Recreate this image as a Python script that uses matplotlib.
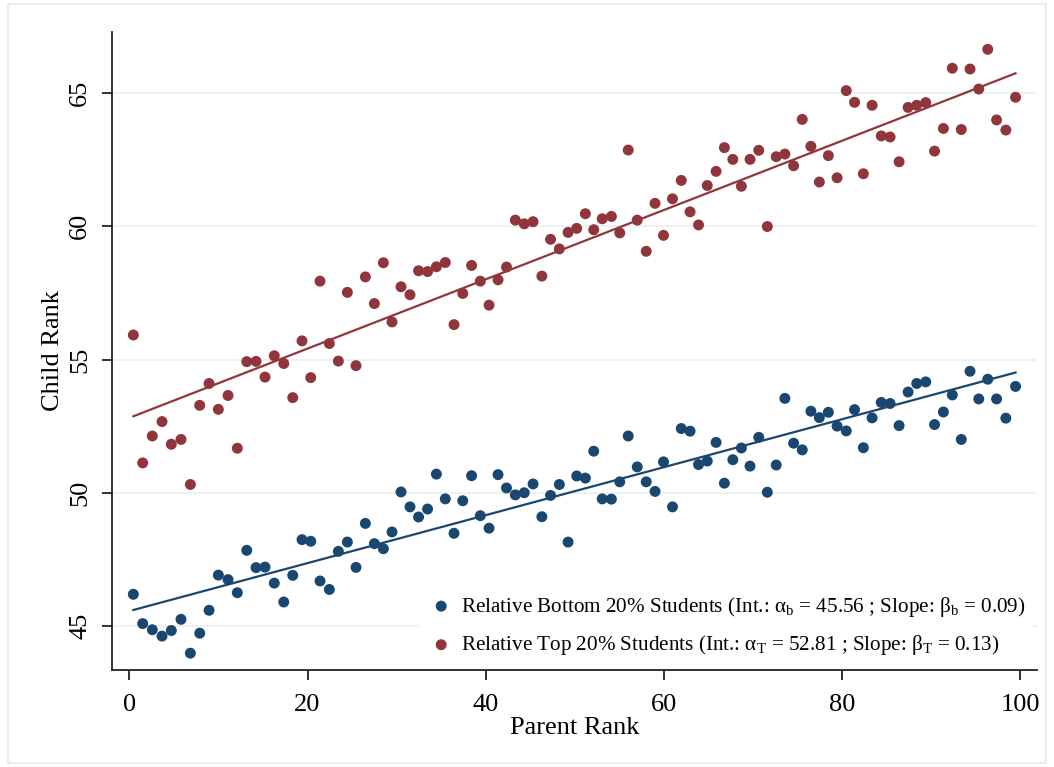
import numpy as np
import matplotlib.pyplot as plt
from matplotlib.patches import Rectangle

plt.rcParams['font.family'] = ['Liberation Serif', 'DejaVu Serif']
plt.rcParams['mathtext.fontset'] = 'custom'
plt.rcParams['mathtext.rm'] = 'Liberation Serif'
plt.rcParams['mathtext.it'] = 'Liberation Serif:italic'

# mean parent rank in each of the 100 bins
parent_rank = [
    0.45, 1.50, 2.58, 3.67, 4.71, 5.80, 6.85, 7.90, 8.95, 9.99,
    11.08, 12.12, 13.18, 14.22, 15.23, 16.27, 17.33, 18.34, 19.38, 20.36,
    21.40, 22.45, 23.46, 24.47, 25.44, 26.49, 27.50, 28.51, 29.48, 30.49,
    31.50, 32.46, 33.47, 34.46, 35.46, 36.44, 37.42, 38.41, 39.39, 40.37,
    41.38, 42.33, 43.32, 44.32, 45.31, 46.30, 47.27, 48.26, 49.24, 50.21,
    51.18, 52.12, 53.07, 54.10, 55.04, 55.99, 57.00, 58.01, 59.00, 59.95,
    60.96, 61.94, 62.93, 63.88, 64.86, 65.85, 66.78, 67.73, 68.69, 69.66,
    70.64, 71.60, 72.60, 73.57, 74.55, 75.52, 76.49, 77.44, 78.45, 79.43,
    80.46, 81.39, 82.38, 83.36, 84.39, 85.38, 86.39, 87.40, 88.37, 89.38,
    90.37, 91.36, 92.36, 93.37, 94.35, 95.33, 96.34, 97.33, 98.37, 99.46,
]

# mean child rank per bin, relative bottom 20% students
child_bottom = [
    46.19, 45.09, 44.86, 44.62, 44.83, 45.25, 43.98, 44.73, 45.59, 46.91,
    46.74, 46.25, 47.84, 47.19, 47.21, 46.61, 45.90, 46.90, 48.24, 48.18,
    46.69, 46.37, 47.80, 48.15, 47.20, 48.85, 48.09, 47.90, 48.53, 50.03,
    49.47, 49.09, 49.39, 50.70, 49.77, 48.48, 49.70, 50.64, 49.14, 48.67,
    50.68, 50.18, 49.92, 50.00, 50.33, 49.10, 49.90, 50.31, 48.15, 50.63,
    50.55, 51.56, 49.77, 49.76, 50.41, 52.13, 50.97, 50.41, 50.05, 51.16,
    49.47, 52.41, 52.31, 51.06, 51.19, 51.89, 50.36, 51.24, 51.68, 51.00,
    52.08, 50.02, 51.04, 53.54, 51.86, 51.61, 53.06, 52.82, 53.02, 52.50,
    52.32, 53.12, 51.69, 52.81, 53.39, 53.35, 52.52, 53.78, 54.10, 54.16,
    52.56, 53.03, 53.67, 52.00, 54.56, 53.52, 54.26, 53.52, 52.80, 53.99,
]

# mean child rank per bin, relative top 20% students
child_top = [
    55.92, 51.12, 52.13, 52.67, 51.82, 52.00, 50.31, 53.28, 54.10, 53.13,
    53.65, 51.67, 54.92, 54.93, 54.34, 55.14, 54.85, 53.57, 55.70, 54.32,
    57.94, 55.60, 54.94, 57.52, 54.77, 58.10, 57.10, 58.63, 56.41, 57.73,
    57.43, 58.33, 58.30, 58.48, 58.64, 56.31, 57.48, 58.53, 57.94, 57.04,
    57.99, 58.47, 60.23, 60.09, 60.17, 58.13, 59.51, 59.15, 59.77, 59.92,
    60.47, 59.87, 60.28, 60.37, 59.75, 62.86, 60.23, 59.06, 60.86, 59.66,
    61.03, 61.72, 60.54, 60.05, 61.53, 62.06, 62.95, 62.51, 61.50, 62.51,
    62.85, 59.99, 62.61, 62.71, 62.27, 64.01, 63.00, 61.66, 62.65, 61.82,
    65.09, 64.65, 61.97, 64.54, 63.39, 63.35, 62.42, 64.46, 64.54, 64.64,
    62.82, 63.67, 65.93, 63.63, 65.90, 65.15, 66.64, 63.99, 63.61, 64.84,
]

# fitted intercepts and slopes
alpha_b, beta_b = 45.56, 0.09
alpha_t, beta_t = 52.81, 0.13

x_ticks = [0, 20, 40, 60, 80, 100]
y_ticks = [45, 50, 55, 60, 65]

navy = '#1a476f'
maroon = '#90353b'
grid_col = '#eaf2f3'

lab_b = ('Relative Bottom 20% Students (Int.: α$_\\mathrm{b}$ = ' + f'{alpha_b:.2f}'
         + ' ; Slope: β$_\\mathrm{b}$ = ' + f'{beta_b:.2f})')
lab_t = ('Relative Top 20% Students (Int.: α$_\\mathrm{T}$ = ' + f'{alpha_t:.2f}'
         + ' ; Slope: β$_\\mathrm{T}$ = ' + f'{beta_t:.2f})')

fig = plt.figure(figsize=(10.54, 7.67), dpi=100)
ax = fig.add_axes([0.1063, 0.1265, 0.8776, 0.8318])

ax.scatter(parent_rank, child_bottom, s=62, color=navy, edgecolors='none', zorder=3, label=lab_b)
ax.scatter(parent_rank, child_top, s=62, color=maroon, edgecolors='none', zorder=3, label=lab_t)

xl = np.array([parent_rank[0], parent_rank[-1]])
ax.plot(xl, alpha_b + beta_b * xl, color=navy, lw=1.6, zorder=2)
ax.plot(xl, alpha_t + beta_t * xl, color=maroon, lw=1.6, zorder=2)

ax.set_xlim(-1.94, 101.87)
ax.set_ylim(43.35, 67.29)
ax.set_xticks(x_ticks)
ax.set_yticks(y_ticks)
for t in y_ticks:
    ax.axhline(t, color=grid_col, lw=1.5, zorder=0)

ax.tick_params(axis='both', labelsize=19, length=7.2, width=1.3, color='#222222')
for lab in ax.get_yticklabels():
    lab.set_rotation(90)
    lab.set_va('center')
ax.tick_params(axis='y', pad=7.8)
ax.tick_params(axis='x', pad=10.3)

ax.set_xlabel('Parent Rank', fontsize=19, labelpad=0.6)
ax.set_ylabel('Child Rank', fontsize=19, labelpad=4)

for side in ['top', 'right']:
    ax.spines[side].set_visible(False)
for side in ['left', 'bottom']:
    ax.spines[side].set_linewidth(1.3)
    ax.spines[side].set_color('#222222')

leg = ax.legend(loc='center left', bbox_to_anchor=(0.3319, 0.069), fontsize=15.2,
                frameon=True, facecolor='white', edgecolor='none', framealpha=1,
                handletextpad=0.25, handlelength=1.4, labelspacing=0.69,
                borderpad=0.35, borderaxespad=0, scatterpoints=1)
leg.set_zorder(5)

# light outer border of the graph region
fig.patches.append(Rectangle((8 / 1054, 4 / 767), 1038 / 1054, 759 / 767,
                             transform=fig.transFigure, fill=False,
                             edgecolor='#e4ecee', lw=1.2))

fig.savefig('out.png', dpi=100, facecolor='white')
